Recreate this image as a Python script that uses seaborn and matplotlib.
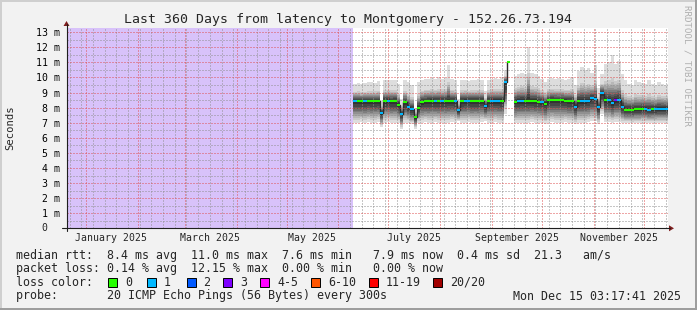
import numpy as np
import pandas as pd
import matplotlib
matplotlib.use("Agg")
import matplotlib.pyplot as plt
import matplotlib.dates as mdates
from matplotlib.ticker import MultipleLocator
from matplotlib.patches import Rectangle, Polygon
from matplotlib.lines import Line2D
from matplotlib.transforms import ScaledTranslation
import seaborn as sns
from datetime import datetime, timedelta

# ---------------- data ----------------
title = "Last 360 Days from latency to Montgomery - 152.26.73.194"
end_time = datetime(2025, 12, 15, 3, 17, 41)
span_days = 360
first_sample = datetime(2025, 6, 10)
step_days = 2

median_ms = [
    8.45, 8.45, 8.42, 8.44, 8.45, 8.42, 8.45, 8.44, 7.67, 8.45,
    8.46, 8.44, 8.45, 8.20, 7.58, 8.35, 8.07, 7.90, 7.36, 8.00,
    8.38, 8.42, 8.44, 8.45, 8.43, 8.44, 8.45, 8.44, 8.46, 8.44,
    8.45, 7.84, 8.45, 8.46, 8.46, 8.44, 8.45, 8.44, 8.45, 8.10,
    8.45, 8.46, 8.45, 8.46, 8.45, 9.70, 11.05, np.nan, 8.40, 8.45,
    8.46, 8.45, 8.46, 8.45, 8.45, 8.40, 8.38, 8.26, 8.48, 8.50,
    8.50, 8.48, 8.50, 8.47, 8.44, 8.42, 8.06, 8.45, 8.46, 8.46,
    8.47, 8.62, 8.60, 8.02, 8.95, 8.50, 8.50, 8.30, 8.50, 8.50,
    8.02, 7.87, 7.87, 7.87, 7.88, 7.88, 7.93, 7.92, 7.87, 7.88,
    7.90, 7.92, 7.92, 7.92, 7.92,
]
loss_count = [
    1, 0, 0, 1, 0, 0, 0, 0, 1, 0,
    1, 0, 0, 0, 1, 0, 1, 1, 0, 0,
    0, 0, 0, 0, 1, 0, 1, 0, 0, 0,
    1, 1, 0, 1, 1, 0, 0, 0, 0, 1,
    0, 1, 1, 1, 0, 1, 0, 0, 0, 1,
    1, 0, 0, 0, 0, 0, 1, 0, 0, 0,
    0, 0, 0, 0, 0, 0, 1, 0, 1, 1,
    1, 1, 1, 1, 1, 0, 1, 1, 3, 1,
    1, 0, 0, 0, 0, 0, 0, 1, 1, 0,
    1, 1, 1, 1, 1,
]
smoke_hi = [
    9.60, 9.65, 9.60, 9.65, 9.70, 9.70, 9.65, 9.75, 8.50, 9.85,
    9.85, 9.80, 9.85, 9.60, 8.60, 9.80, 9.70, 9.50, 8.00, 9.70,
    9.80, 9.90, 9.90, 9.95, 9.90, 10.0, 9.90, 9.95, 10.8, 9.90,
    9.80, 8.60, 9.80, 9.85, 9.75, 9.85, 9.80, 9.90, 9.85, 9.10,
    9.80, 9.90, 9.95, 9.90, 10.0, 10.5, 12.8, np.nan, 10.1, 10.2,
    10.3, 10.2, 12.0, 10.3, 10.2, 10.1, 9.90, 9.70, 9.90, 9.95,
    9.90, 9.95, 9.90, 9.85, 9.90, 10.0, 9.50, 10.4, 10.7, 10.5,
    10.6, 10.3, 10.8, 9.30, 10.2, 10.9, 11.0, 11.5, 10.9, 11.1,
    10.2, 9.80, 9.60, 9.50, 9.80, 9.70, 9.65, 9.55, 9.80, 9.60,
    9.50, 9.70, 9.60, 9.50, 9.60,
]
smoke_lo = [
    7.00, 7.00, 7.05, 7.00, 7.05, 7.00, 7.00, 7.05, 6.70, 7.00,
    7.05, 7.00, 7.00, 7.00, 6.60, 7.00, 7.00, 6.90, 6.60, 7.00,
    7.00, 7.05, 7.00, 7.00, 7.05, 7.00, 7.00, 7.00, 7.00, 7.05,
    7.00, 7.10, 7.00, 7.00, 7.05, 7.00, 7.00, 7.00, 7.05, 7.10,
    7.00, 7.00, 7.05, 7.00, 7.00, 7.60, 8.30, np.nan, 6.95, 7.00,
    7.00, 7.00, 7.00, 7.05, 7.00, 7.00, 7.00, 6.90, 7.00, 7.05,
    7.00, 7.00, 7.00, 7.05, 7.00, 7.00, 6.90, 7.00, 7.00, 7.00,
    7.05, 7.10, 7.10, 6.90, 7.60, 7.05, 7.05, 7.00, 7.05, 7.05,
    7.00, 7.00, 7.00, 6.95, 7.00, 7.00, 7.00, 7.00, 7.00, 7.00,
    7.00, 7.00, 7.00, 7.00, 7.00,
]
y_tick_values = list(range(0, 14))
y_tick_labels = ["0"] + [f"{v} m" for v in range(1, 14)]
month_labels = ["January 2025", "March 2025", "May 2025",
                "July 2025", "September 2025", "November 2025"]
month_label_dates = [datetime(2025, m, 16) for m in (1, 3, 5, 7, 9, 11)]
loss_classes = ["0", "1", "2", "3", "4-5", "6-10", "11-19", "20/20"]
loss_colors = ["#26ff00", "#00b8ff", "#0059ff", "#7e00ff",
               "#ff00ff", "#ff5500", "#ff0000", "#a10000"]
legend_rtt = "median rtt:  8.4 ms avg  11.0 ms max  7.6 ms min   7.9 ms now  0.4 ms sd  21.3   am/s"
legend_loss = "packet loss: 0.14 % avg  12.15 % max  0.00 % min   0.00 % now"
probe_text = "probe:       20 ICMP Echo Pings (56 Bytes) every 300s"
stamp_text = "Mon Dec 15 03:17:41 2025"

# ---------------- style ----------------
sns.set_style("white")
plt.rcParams["font.family"] = ["DejaVu Sans Mono"]
plt.rcParams["lines.scale_dashes"] = False

W, H = 697, 310
fig = plt.figure(figsize=(W / 100, H / 100), dpi=100)
fig.patch.set_facecolor("#f2f2f2")

PL, PR, PT, PB = 66.5, 667.5, 28.0, 228.3
ax = fig.add_axes([PL / W, 1 - PB / H, (PR - PL) / W, (PB - PT) / H])
ax.set_facecolor("white")
for s in ax.spines.values():
    s.set_visible(False)

def fx(x):
    return x / W

def fy(y):
    return 1 - y / H

# ---------------- data drawing ----------------
n = len(median_ms)
t = mdates.date2num([first_sample + timedelta(days=step_days * i) for i in range(n)])
edges = np.append(t, t[-1] + step_days)
med = np.array(median_ms, float)
hi = np.array(smoke_hi, float)
lo = np.array(smoke_lo, float)

def ext(a):
    return np.append(a, a[-1])

x0 = mdates.date2num(end_time - timedelta(days=span_days))
x1 = mdates.date2num(end_time)

# no-data region
ax.axvspan(x0, t[0], color="#d8c2fa", lw=0, zorder=0.5)

gu = [1, .52, .44, .38, .32, .27, .22, .17, .12, .06]
gl = [1, .86, .77, .69, .61, .53, .45, .36, .26, .13]
for i in range(10):
    g = (221 - 19 * i) / 255
    up = med + (hi - med) * gu[i]
    dn = med - (med - lo) * gl[i]
    ax.fill_between(edges, ext(dn), ext(up), step="post",
                    color=(g, g, g), lw=0, zorder=1)

ys = ext(med)
seg = np.cumsum(np.isnan(ys))
df = pd.DataFrame({"x": edges, "y": ys, "seg": seg}).dropna()
sns.lineplot(data=df, x="x", y="y", units="seg", estimator=None,
             drawstyle="steps-post", color="#2c2c2c", lw=1.0,
             ax=ax, zorder=2, legend=False)

cols = [loss_colors[{0: 0, 1: 1, 2: 2, 3: 3}.get(l, 4)] for l in loss_count]
ax.hlines(med, t, t + step_days, colors=cols, lw=1.5, zorder=3)

ax.set_xlim(x0, x1)
ax.set_ylim(0, 13.28)
ax.set_xlabel("")
ax.set_ylabel("")

# ---------------- grid ----------------
mg = (0.87, 0.31, 0.31, 0.45)
ng = (0.56, 0.56, 0.56, 0.45)
dots = (0, (0.72, 1.44))
ax.xaxis.set_major_locator(mdates.MonthLocator())
ax.xaxis.set_minor_locator(mdates.WeekdayLocator(byweekday=mdates.SU))
ax.yaxis.set_major_locator(MultipleLocator(1))
ax.yaxis.set_minor_locator(MultipleLocator(0.5))
ax.set_axisbelow(False)
ax.grid(which="major", color=mg, lw=0.72, linestyle=dots)
ax.grid(which="minor", color=ng, lw=0.72, linestyle=dots)
ax.tick_params(axis="x", which="major", length=2, width=0.6, color=mg,
               labelbottom=False)
ax.tick_params(axis="x", which="minor", length=2, width=0.45, color=ng)
ax.tick_params(axis="y", which="minor", length=2, width=0.45, color=ng)
ax.set_yticks(y_tick_values)
ax.set_yticklabels([""] + y_tick_labels[1:])
ax.tick_params(axis="y", which="major", length=2, width=0.6, color=mg,
               labelsize=7.1, pad=3.0, labelcolor="black")
ax.text(0, 0, y_tick_labels[0], ha="right", va="center", fontsize=7.1,
        transform=ax.get_yaxis_transform()
        + ScaledTranslation(-19.5 / 100, 0, fig.dpi_scale_trans))

for d, lab in zip(month_label_dates, month_labels):
    ax.text(mdates.date2num(d), 0, lab, ha="center", va="center",
            fontsize=7.1, transform=ax.get_xaxis_transform()
            + ScaledTranslation(0, -9.7 / 100, fig.dpi_scale_trans))

# ---------------- axes lines & arrows ----------------
axc = (0.12, 0.12, 0.12)
arc = (0.5, 0.12, 0.12)
fig.add_artist(Line2D([fx(62), fx(670)], [fy(PB), fy(PB)], color=axc, lw=0.8))
fig.add_artist(Line2D([fx(PL), fx(PL)], [fy(231), fy(24)], color=axc, lw=0.8))
fig.add_artist(Polygon([[fx(669), fy(PB - 3)], [fx(669), fy(PB + 3)], [fx(674), fy(PB)]],
                       closed=True, color=arc, lw=0))
fig.add_artist(Polygon([[fx(PL - 3), fy(26)], [fx(PL + 3), fy(26)], [fx(PL), fy(21)]],
                       closed=True, color=arc, lw=0))

# ---------------- texts ----------------
fig.text(fx(348.5), fy(19), title, ha="center", va="center", fontsize=9.5)
fig.text(fx(10), fy(128), "Seconds", rotation=90, ha="center", va="center", fontsize=7.6)
fig.text(fx(687), fy(5), "RRDTOOL / TOBI OETIKER", rotation=-90, ha="center",
         va="top", fontsize=6.6, color="#b0b0b0")

LFS = 8.4
fig.text(fx(16), fy(255), legend_rtt, ha="left", va="center", fontsize=LFS)
fig.text(fx(16), fy(268.5), legend_loss, ha="left", va="center", fontsize=LFS)
fig.text(fx(16), fy(282), "loss color:", ha="left", va="center", fontsize=LFS)
box_x = [108, 146.5, 186.5, 223, 260, 311, 369, 433]
for bx, lab, c in zip(box_x, loss_classes, loss_colors):
    fig.add_artist(Rectangle((fx(bx), fy(286.5)), 9 / W, 9 / H, facecolor=c,
                             edgecolor="black", lw=0.7))
    fig.text(fx(bx + 17), fy(282), lab, ha="left", va="center", fontsize=LFS)
fig.text(fx(16), fy(296), probe_text, ha="left", va="center", fontsize=LFS)
fig.text(fx(681), fy(296), stamp_text, ha="right", va="center", fontsize=LFS)

# ---------------- 3d border ----------------
fig.add_artist(Rectangle((0, 0), 2 / W, 1, color="#cfcfcf", lw=0))
fig.add_artist(Rectangle((0, 1 - 2 / H), 1, 2 / H, color="#cfcfcf", lw=0))
fig.add_artist(Rectangle((0, 0), 1, 2 / H, color="#9e9e9e", lw=0))
fig.add_artist(Rectangle((1 - 2 / W, 0), 2 / W, 1, color="#9e9e9e", lw=0))

fig.savefig("out.png", dpi=100)
